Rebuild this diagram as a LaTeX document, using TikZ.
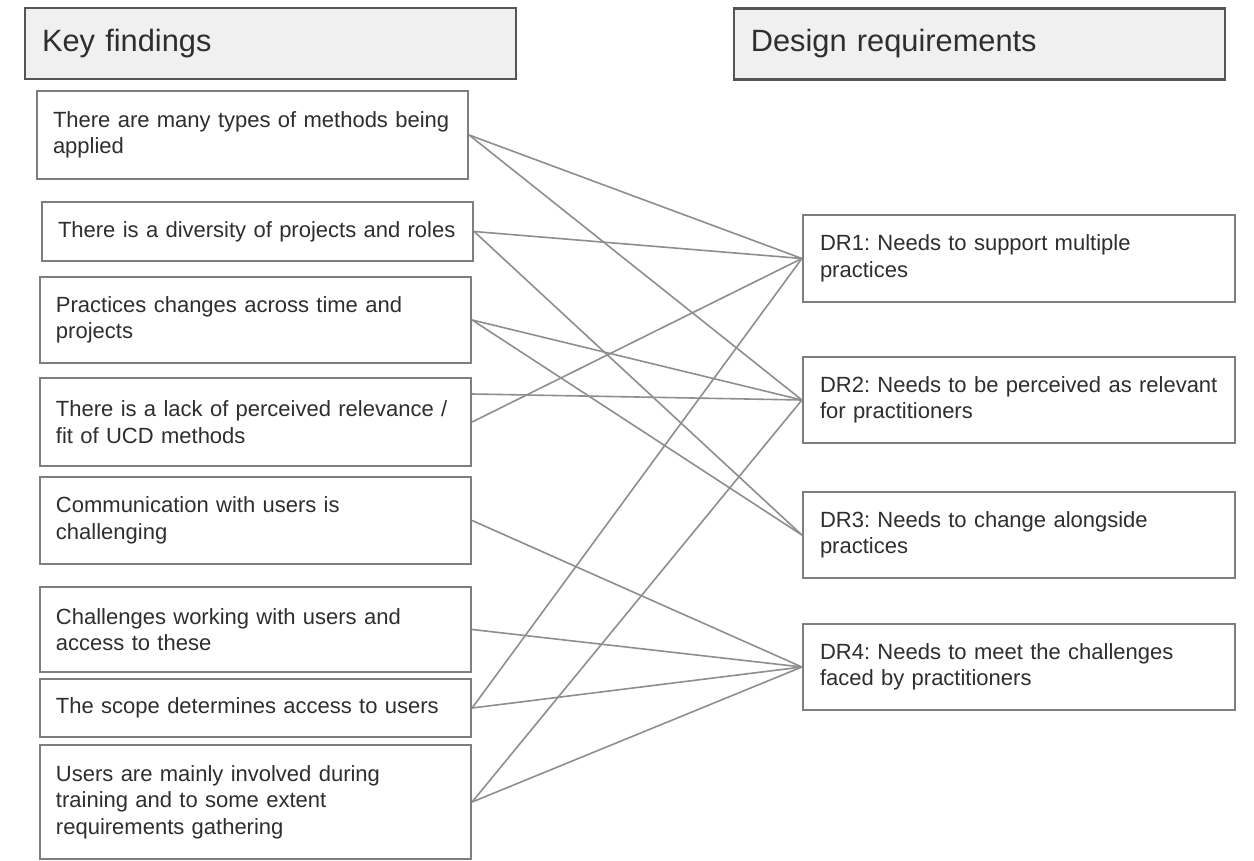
\documentclass[tikz,border=0pt]{standalone}
\usepackage{fontspec}
\setmainfont{Liberation Sans}
\definecolor{txt}{HTML}{2E2E2E}
\definecolor{edge}{HTML}{7E7E7E}
\definecolor{headedge}{HTML}{555555}
\definecolor{headfill}{HTML}{F0F0F0}
\definecolor{wire}{HTML}{8E8E8E}
\begin{document}
\frenchspacing
\begin{tikzpicture}[x=1pt,y=-1pt,
  header/.style={rectangle, draw=headedge, fill=headfill, line width=2.2pt,
    text width=457pt, inner xsep=17pt, inner ysep=0pt, minimum height=71pt,
    align=left, text=txt, font=\fontsize{30.8}{36}\selectfont},
  finding/.style={rectangle, draw=edge, fill=white, line width=2.2pt,
    text width=399pt, inner xsep=16pt, inner ysep=0pt,
    align=left, text=txt, font=\fontsize{22}{26.5}\selectfont,
    execute at begin node={\hyphenpenalty=10000\exhyphenpenalty=10000}},
  req/.style={finding, text width=398pt, inner xsep=17pt},
  link/.style={draw=wire, line width=1.6pt}
]
\useasboundingbox (0,0) rectangle (1254,861);
\fill[white] (0,0) rectangle (1254,861);

% column headers
\node[header] (kf) at (270.5,43.5) {Key findings};
\node[header] (dr) at (979.3,44) {Design requirements};

% key findings
\node[finding, minimum height=88pt]  (f1) at (252.5,135)   {There are many types of methods being\\applied};
\node[finding, minimum height=59pt]  (f2) at (257.5,231.5) {There is a diversity of projects and roles};
\node[finding, minimum height=86pt]  (f3) at (255.5,320)   {Practices changes across time and\\projects};
\node[finding, minimum height=88pt]  (f4) at (255.5,422)   {There is a lack of perceived relevance /\\fit of UCD methods};
\node[finding, minimum height=87pt]  (f5) at (255.5,520.5) {Communication with users is\\challenging};
\node[finding, minimum height=85pt]  (f6) at (255.5,629.5) {Challenges working with users and\\access to these};
\node[finding, minimum height=58pt]  (f7) at (255.5,708)   {The scope determines access to users};
\node[finding, minimum height=114pt] (f8) at (255.5,802)   {Users are mainly involved during\\training and to some extent\\requirements gathering};

% design requirements
\node[req, minimum height=87pt] (d1) at (1019,258.5) {DR1: Needs to support multiple\\practices};
\node[req, minimum height=86pt] (d2) at (1019,400)   {DR2: Needs to be perceived as relevant\\for practitioners};
\node[req, minimum height=86pt] (d3) at (1019,535)   {DR3: Needs to change alongside\\practices};
\node[req, minimum height=86pt] (d4) at (1019,667)   {DR4: Needs to meet the challenges\\faced by practitioners};

% second port on the relevance finding
\coordinate (f4top) at ([yshift=28pt]f4.east);

% links from findings to requirements
\draw[link] (f1.east) -- (d1.west);
\draw[link] (f1.east) -- (d2.west);
\draw[link] (f2.east) -- (d1.west);
\draw[link] (f2.east) -- (d3.west);
\draw[link] (f3.east) -- (d2.west);
\draw[link] (f3.east) -- (d3.west);
\draw[link] (f4top) -- (d2.west);
\draw[link] (f4.east) -- (d1.west);
\draw[link] (f5.east) -- (d4.west);
\draw[link] (f6.east) -- (d4.west);
\draw[link] (f7.east) -- (d4.west);
\draw[link] (f7.east) -- (d1.west);
\draw[link] (f8.east) -- (d4.west);
\draw[link] (f8.east) -- (d2.west);
\end{tikzpicture}
\end{document}
